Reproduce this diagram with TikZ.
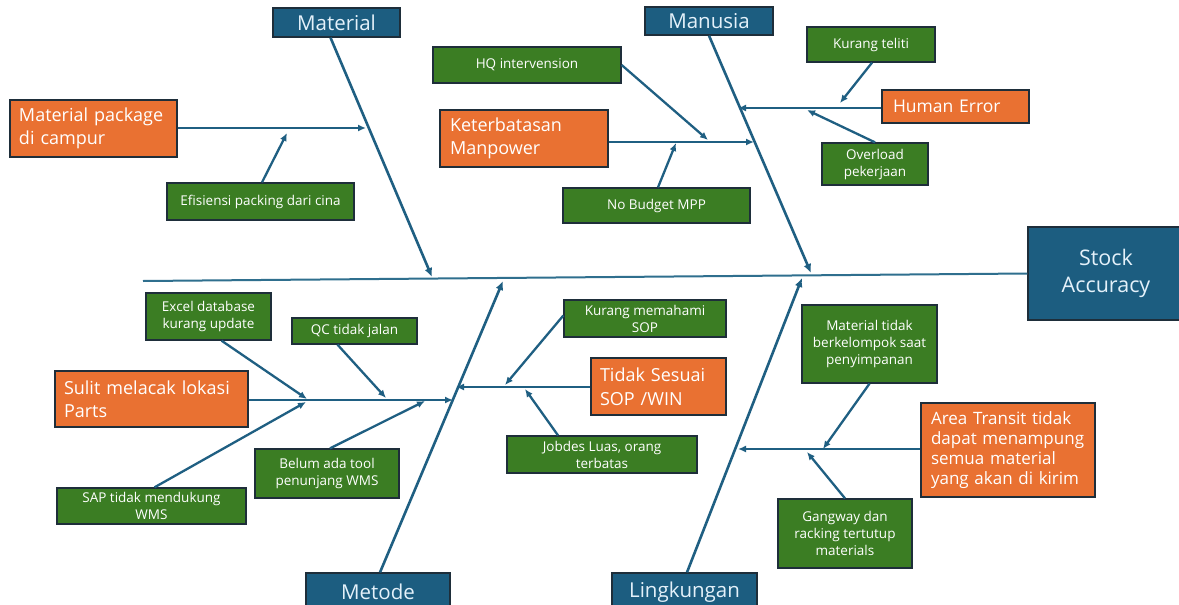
\documentclass[tikz,border=0pt]{standalone}
\usepackage{fontspec}
\setmainfont{Open Sans}
\usetikzlibrary{arrows.meta}
\definecolor{boneblue}{HTML}{1F5F82}
\definecolor{spineblue}{HTML}{2F6F8E}
\definecolor{catblue}{HTML}{1C5D80}
\definecolor{cattext}{HTML}{E4F1FA}
\definecolor{causeorange}{HTML}{E97132}
\definecolor{subgreen}{HTML}{3B7D23}
\definecolor{boxline}{HTML}{1E2E3A}
\begin{document}
\begin{tikzpicture}[x=1pt,y=-1pt,
  box/.style={draw=boxline,line width=1.3pt,inner sep=0pt,text=white},
  cat/.style={box,fill=catblue,text=cattext,font=\fontsize{20.5}{24}\selectfont},
  effect/.style={box,fill=catblue,text=cattext,align=center,font=\fontsize{21.5}{27}\selectfont},
  cause/.style={box,fill=causeorange,align=left,font=\fontsize{18}{23.5}\selectfont},
  sub/.style={box,fill=subgreen,align=center,font=\fontsize{13.5}{17}\selectfont},
  bone/.style={draw=boneblue,line width=2.6pt,-{Latex[length=9pt,width=8pt]}},
  twig/.style={draw=boneblue,line width=2.3pt,-{Latex[length=8pt,width=7pt]}},
  spine/.style={draw=spineblue,line width=2pt},
]
\useasboundingbox (0,0) rectangle (1179,605);
\fill[white] (0,0) rectangle (1179,605);

% head of the fish
\node[effect, minimum width=156pt, minimum height=93pt] (stock) at (1106,273.5) {Stock\\Accuracy};

% category headers
\node[cat, minimum width=127pt, minimum height=29pt] (matH) at (336.5,22.5) {Material};
\node[cat, minimum width=128pt, minimum height=28pt] (manH) at (709,21) {Manusia};
\node[cat, minimum width=144pt, minimum height=38pt] (metH) at (378,592) {Metode};
\node[cat, minimum width=145pt, minimum height=38pt] (linH) at (684.5,592) {Lingkungan};

% main causes
\node[cause, minimum width=167pt, minimum height=57pt, text width=149pt] (mp) at (93.5,128.5) {Material package\\di campur};
\node[cause, minimum width=168pt, minimum height=57pt, text width=148pt] (kt) at (524,138.5) {Keterbatasan\\Manpower};
\node[cause, minimum width=147pt, minimum height=33pt, text width=125pt, font=\fontsize{17.5}{22}\selectfont] (he) at (955.5,106.5) {Human Error};
\node[cause, minimum width=193pt, minimum height=56pt, text width=175pt] (sl) at (151.5,399) {Sulit melacak lokasi\\Parts};
\node[cause, minimum width=135pt, minimum height=57pt, text width=117pt] (ts) at (658.5,386.5) {Tidak Sesuai\\SOP /WIN};
\node[cause, minimum width=174pt, minimum height=94pt, text width=154pt, font=\fontsize{17}{20}\selectfont] (at) at (1008,450) {Area Transit tidak\\dapat menampung\\semua material\\yang akan di kirim};

% sub causes
\node[sub, minimum width=187pt, minimum height=37pt] (ef) at (260.5,201.5) {Efisiensi packing dari cina};
\node[sub, minimum width=188pt, minimum height=36pt] (hq) at (527,65) {HQ intervension};
\node[sub, minimum width=187pt, minimum height=35pt] (nb) at (656.5,205.5) {No Budget MPP};
\node[sub, minimum width=128pt, minimum height=35pt] (kte) at (871,44.5) {Kurang teliti};
\node[sub, minimum width=106pt, minimum height=42pt] (ov) at (875,164) {Overload\\pekerjaan};
\node[sub, minimum width=125pt, minimum height=47pt] (ex) at (208.5,316.5) {Excel database\\kurang update};
\node[sub, minimum width=125pt, minimum height=26pt] (qc) at (354.5,331) {QC tidak jalan};
\node[sub, minimum width=189pt, minimum height=36pt] (sap) at (151.5,506) {SAP tidak mendukung\\WMS};
\node[sub, minimum width=144pt, minimum height=49pt] (bl) at (327,473.5) {Belum ada tool\\penunjang WMS};
\node[sub, minimum width=162pt, minimum height=37pt] (km) at (645,318.5) {Kurang memahami\\SOP};
\node[sub, minimum width=190pt, minimum height=37pt] (jb) at (602,454.5) {Jobdes Luas, orang\\terbatas};
\node[sub, minimum width=135pt, minimum height=78pt] (mt) at (869.5,344) {Material tidak\\berkelompok saat\\penyimpanan};
\node[sub, minimum width=134pt, minimum height=69pt] (gw) at (845,533.5) {Gangway dan\\racking tertutup\\materials};

% joints on the spine and on the bones
\coordinate (tail) at (143,281);
\coordinate (matJ) at (432,277);
\coordinate (manJ) at (811,273);
\coordinate (metJ) at (503,281);
\coordinate (linJ) at (802,278);
\coordinate (mpJ) at (366,128);
\coordinate (efJ) at (287,133);
\coordinate (ktJ) at (754,142);
\coordinate (hqJ) at (708,140);
\coordinate (nbJ) at (676,143);
\coordinate (heJ) at (738,108);
\coordinate (kteJ) at (840,103);
\coordinate (ovJ) at (807,110);
\coordinate (slJ) at (453,400);
\coordinate (exJ) at (307,399);
\coordinate (sapJ) at (306,402);
\coordinate (qcJ) at (386,398);
\coordinate (blJ) at (425,401);
\coordinate (tsJ) at (456,387);
\coordinate (kmJ) at (505,385);
\coordinate (jbJ) at (525,389);
\coordinate (atJ) at (738,449);
\coordinate (mtJ) at (823,449);
\coordinate (gwJ) at (807,452);

% spine
\draw[spine] (tail) -- (stock.west);

% category bones
\draw[bone] ([xshift=-6pt]matH.south) -- (matJ);
\draw[bone] (manH.south) -- (manJ);
\draw[bone] ([xshift=2pt]metH.north) -- (metJ);
\draw[bone] ([xshift=2.5pt]linH.north) -- (linJ);

% cause branches
\draw[twig] (mp.east|-mpJ) -- (mpJ);
\draw[twig] ([xshift=1.5pt]ef.north) -- (efJ);
\draw[twig] (kt.east|-ktJ) -- (ktJ);
\draw[twig] (hq.east) -- (hqJ);
\draw[twig] ([xshift=1.5pt]nb.north) -- (nbJ);
\draw[twig] (he.west|-heJ) -- (heJ);
\draw[twig] ([xshift=1pt]kte.south) -- (kteJ);
\draw[twig] (ov.north) -- (ovJ);
\draw[twig] (sl.east|-slJ) -- (slJ);
\draw[twig] ([xshift=13pt]ex.south) -- (exJ);
\draw[twig] ([xshift=3pt]sap.north) -- (sapJ);
\draw[twig] ([xshift=-17pt]qc.south) -- (qcJ);
\draw[twig] ([xshift=3pt]bl.north) -- (blJ);
\draw[twig] (ts.west|-tsJ) -- (tsJ);
\draw[twig] ([yshift=3pt]km.west) -- (kmJ);
\draw[twig] ([xshift=-44pt]jb.north) -- (jbJ);
\draw[twig] (at.west|-atJ) -- (atJ);
\draw[twig] (mt.south) -- (mtJ);
\draw[twig] (gw.north) -- (gwJ);
\end{tikzpicture}
\end{document}
